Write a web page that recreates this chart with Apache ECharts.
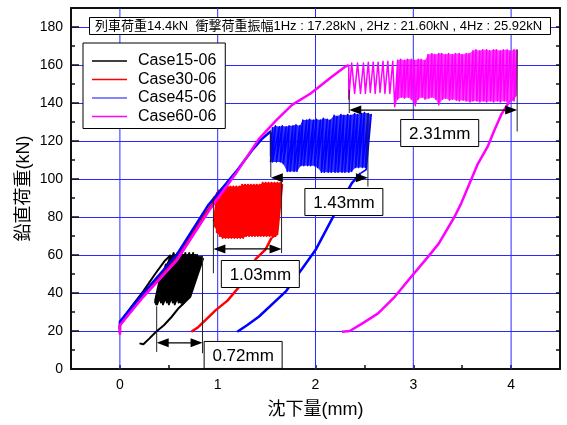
<!DOCTYPE html>
<html>
<head>
<meta charset="utf-8">
<script src="https://cdn.jsdelivr.net/npm/echarts@6/dist/echarts.min.js"></script>
<style>
  html, body { margin: 0; padding: 0; background: #fff; }
  #chart { width: 567px; height: 425px; }
</style>
</head>
<body>
<div id="chart"></div>
<script>
  var FONT = "'Liberation Sans', 'Noto Sans CJK JP', sans-serif"
  var titleText = '列車荷重14.4kN  衝撃荷重振幅1Hz : 17.28kN , 2Hz : 21.60kN , 4Hz : 25.92kN'
  var caseNames = ['Case15-06', 'Case30-06', 'Case45-06', 'Case60-06']

  // grid lines (x only, y comes from the axis)
  var gridX = [0, 1, 2, 3, 4]

  // Case15-06 : loading / cycle tops / cycle bottoms / unloading  [沈下量 mm, 荷重 kN]
  var blackLoad = [[0, 19], [0, 23], [0.05, 28], [0.12, 33], [0.24, 41], [0.36, 50], [0.46, 57], [0.52, 60]]
  var blackTop = [[0.42, 50], [0.47, 55], [0.52, 59], [0.55, 61], [0.57, 60], [0.59, 61], [0.61, 60], [0.63, 61],
    [0.65, 60], [0.67, 61], [0.69, 60], [0.71, 61], [0.73, 60], [0.75, 61], [0.77, 60], [0.79, 60], [0.81, 59],
    [0.83, 59], [0.85, 58]]
  var blackBot = [[0.36, 35], [0.36, 36], [0.37, 34], [0.37, 35], [0.38, 34], [0.40, 36], [0.42, 35], [0.44, 34],
    [0.46, 36], [0.48, 35], [0.50, 34], [0.52, 36], [0.54, 35], [0.56, 34], [0.58, 36], [0.60, 35], [0.62, 35],
    [0.64, 34], [0.66, 35], [0.72, 38]]
  var blackUnload = [[0.66, 35], [0.60, 32], [0.53, 27.5], [0.45, 23], [0.37, 19.6], [0.30, 16], [0.24, 13], [0.20, 13.5]]

  // Case30-06
  var redLoad = [[0, 19], [0, 23], [0.24, 39], [0.58, 58], [0.85, 80], [0.96, 88], [1.0, 93]]
  var redTop = [[1.01, 94], [1.04, 95], [1.07, 95], [1.10, 96], [1.13, 96], [1.16, 96], [1.19, 96], [1.22, 96],
    [1.25, 97], [1.28, 97], [1.31, 97], [1.34, 97], [1.37, 97], [1.40, 97], [1.43, 97], [1.46, 98], [1.49, 98],
    [1.52, 98], [1.55, 98], [1.58, 98], [1.61, 98], [1.64, 98], [1.66, 97]]
  var redBot = [[0.96, 78], [0.97, 75], [0.99, 72], [1.02, 70], [1.05, 69], [1.08, 69], [1.11, 69], [1.14, 69],
    [1.17, 69], [1.20, 69], [1.23, 69], [1.26, 69], [1.29, 70], [1.32, 70], [1.35, 70], [1.38, 70], [1.41, 70],
    [1.44, 70], [1.47, 70], [1.50, 70], [1.53, 70], [1.56, 70], [1.59, 70], [1.61, 71]]
  var redUnload = [[1.55, 69], [1.49, 63], [1.39, 58], [1.3, 50.5], [1.22, 43.3], [1.1, 36], [0.98, 31], [0.88, 26], [0.8, 22], [0.73, 19.6]]

  // Case45-06
  var blueLoad = [[0, 21], [0, 25], [0.24, 40], [0.58, 60], [0.9, 86], [1.19, 104], [1.35, 115], [1.45, 121], [1.54, 125]]
  var blueTop = [[1.56, 127], [1.59, 128], [1.63, 127.5], [1.66, 128], [1.70, 127.5], [1.73, 128], [1.77, 128],
    [1.80, 128.5], [1.84, 128], [1.87, 131], [1.91, 131], [1.94, 131.5], [1.98, 131], [2.01, 131.5], [2.05, 131],
    [2.08, 132], [2.12, 131.5], [2.15, 131], [2.19, 133.5], [2.22, 133], [2.26, 134], [2.29, 133.5], [2.33, 134],
    [2.36, 133.5], [2.40, 134.5], [2.43, 134], [2.47, 134.5], [2.50, 135], [2.54, 134.5], [2.57, 134]]
  var blueBot = [[1.54, 112], [1.54, 109], [1.56, 109], [1.60, 109], [1.64, 109], [1.67, 108], [1.71, 104],
    [1.74, 104], [1.78, 104], [1.81, 104], [1.85, 107], [1.88, 107], [1.92, 107], [1.95, 107], [1.99, 107],
    [2.02, 106], [2.06, 103.5], [2.09, 103.5], [2.13, 103.5], [2.16, 103.5], [2.20, 103.5], [2.23, 103.5],
    [2.27, 103.5], [2.30, 103.5], [2.34, 103.5], [2.37, 104], [2.41, 106], [2.44, 106], [2.48, 106], [2.51, 106], [2.52, 105]]
  var blueUnload = [[2.46, 103], [2.37, 97.7], [2.2, 82], [2.0, 62.6], [1.7, 41], [1.42, 27.5], [1.3, 23], [1.2, 19.6]]

  // Case60-06
  var pinkLoad = [[0, 18], [0, 23], [0.24, 38], [0.58, 57], [0.92, 84], [1.2, 104], [1.42, 121], [1.6, 131],
    [1.76, 139], [1.95, 145], [2.17, 154], [2.3, 159], [2.34, 160]]
  var pinkTop = [[2.37, 161], [2.43, 161], [2.49, 161], [2.54, 161.5], [2.59, 161.5], [2.64, 161.5], [2.69, 162],
    [2.74, 162], [2.79, 162], [2.84, 162.5], [2.87, 163], [2.91, 162.5], [2.94, 163], [2.98, 163], [3.01, 162.5],
    [3.05, 163], [3.08, 163], [3.12, 162.5], [3.15, 165.5], [3.19, 166], [3.22, 165.5], [3.26, 166], [3.29, 166],
    [3.33, 165.5], [3.36, 166], [3.40, 165.5], [3.43, 166], [3.47, 166], [3.50, 165.5], [3.54, 166], [3.57, 166],
    [3.61, 167.5], [3.64, 168], [3.68, 167.5], [3.71, 168], [3.75, 168], [3.78, 167.5], [3.82, 168], [3.85, 168],
    [3.89, 167.5], [3.92, 168], [3.96, 168], [3.99, 167.5], [4.03, 168], [4.06, 168]]
  var pinkBot = [[2.34, 142], [2.40, 145], [2.46, 145], [2.51, 145], [2.56, 145.5], [2.61, 145], [2.66, 145.5],
    [2.71, 145], [2.76, 145], [2.81, 138], [2.84, 142], [2.88, 143], [2.91, 142.5], [2.95, 143], [2.98, 142],
    [3.02, 138.5], [3.05, 142], [3.09, 143], [3.12, 142], [3.16, 142.5], [3.19, 143], [3.23, 142], [3.26, 139],
    [3.30, 142], [3.33, 142.5], [3.37, 141.5], [3.40, 142], [3.44, 141.5], [3.47, 141], [3.51, 141.5], [3.54, 141],
    [3.58, 140.5], [3.61, 141], [3.65, 141], [3.68, 140.5], [3.72, 141], [3.75, 140.5], [3.79, 141], [3.82, 140.5],
    [3.86, 141], [3.89, 140.5], [3.93, 141], [3.96, 140.5], [4.00, 141], [4.03, 141], [4.05, 144]]
  var pinkUnload = [[3.98, 140.5], [3.9, 134], [3.83, 125.8], [3.76, 117], [3.66, 108], [3.49, 87.2], [3.42, 80],
    [3.26, 66], [3.15, 59], [2.98, 48.6], [2.81, 38], [2.64, 29.3], [2.48, 24], [2.35, 20], [2.27, 19.6]]

  // 寸法線 (残留沈下量)
  var dimText = ['0.72mm', '1.03mm', '1.43mm', '2.31mm']
  var dimLeftX = [0.376, 0.956, 1.543, 2.345]
  var dimLeftY = [[9, 33], [50.4, 90.7], [101, 126], [134.7, 147]]
  var dimRightX = [0.845, 1.653, 2.536, 4.062]
  var dimRightY = [[8.3, 59.6], [61, 98.6], [96, 134.7], [125, 168]]
  var dimY = [13.8, 63.2, 100.7, 136.3]
  var labelX = [1.26, 1.436, 2.29, 3.27]
  var labelY = [7.4, 50, 87.9, 124.2]

  // cyclic part: end of loading -> (bottom, top) x n -> bottom -> start of unloading
  function buildCycles(load, tops, bots, unload) {
    var d = [load[load.length - 1]]
    for (var i = 0; i < bots.length; i++) {
      d.push(bots[i])
      if (i < tops.length) d.push(tops[i])
    }
    d.push(unload[0])
    return d
  }

  var colors = ['#000000', '#ff0000', '#0000ff', '#ff00ff']
  var legendColors = ['#000000', '#ff0000', '#5b5bff', '#ff00ff']
  var curveWidth = [2, 2.5, 2.5, 2.5]
  var cycleWidth = [2, 2, 1.5, 1.5]
  var fillOpacity = [1, 1, 0.8, 0.75]
  var fillFrom = [0, 0, 0, 9] // Case60 の最初の数サイクルは塗らない
  var loads = [blackLoad, redLoad, blueLoad, pinkLoad]
  var unloads = [blackUnload, redUnload, blueUnload, pinkUnload]
  var tops = [blackTop, redTop, blueTop, pinkTop]
  var bots = [blackBot, redBot, blueBot, pinkBot]

  // envelope of the cycles: bottoms left->right, tops right->left
  function envelopeSeries(k) {
    var env = bots[k].slice(fillFrom[k]).concat(tops[k].slice(fillFrom[k]).reverse())
    return {
      name: caseNames[k], type: 'custom', z: 2 + k, silent: true,
      data: env,
      renderItem: function (params, api) {
        if (params.dataIndex !== 0) return null
        var pts = env.map(function (p) { return api.coord(p) })
        return {type: 'polygon', shape: {points: pts}, style: {fill: colors[k], opacity: fillOpacity[k]}}
      }
    }
  }

  var axisLineStyle = {color: '#111', width: 2}
  var series = []

  series.push({
    type: 'custom', z: 1, silent: true,
    data: gridX.map(function (v) { return [v] }),
    renderItem: function (params, api) {
      var p0 = api.coord([api.value(0), 0])
      var p1 = api.coord([api.value(0), 190])
      return {type: 'line', shape: {x1: p0[0], y1: p0[1], x2: p1[0], y2: p1[1]}, style: {stroke: '#2a2aff', lineWidth: 1}}
    }
  })

  for (var k = 0; k < 4; k++) {
    var base = {name: caseNames[k], type: 'line', symbol: 'none', z: 2 + k, itemStyle: {color: colors[k]}}
    series.push(envelopeSeries(k))
    series.push(Object.assign({}, base, {data: loads[k], lineStyle: {color: colors[k], width: curveWidth[k]}}))
    series.push(Object.assign({}, base, {
      data: buildCycles(loads[k], tops[k], bots[k], unloads[k]),
      lineStyle: {color: colors[k], width: cycleWidth[k], join: 'round'}
    }))
    series.push(Object.assign({}, base, {data: unloads[k], lineStyle: {color: colors[k], width: curveWidth[k]}}))
  }

  series.push({
    type: 'custom', z: 10, silent: true, clip: false,
    data: labelX.map(function (v, i) { return [v, labelY[i]] }),
    renderItem: function (params, api) {
      var i = params.dataIndex
      var a0 = api.coord([dimLeftX[i], dimLeftY[i][0]]), a1 = api.coord([dimLeftX[i], dimLeftY[i][1]])
      var b0 = api.coord([dimRightX[i], dimRightY[i][0]]), b1 = api.coord([dimRightX[i], dimRightY[i][1]])
      var l = api.coord([dimLeftX[i], dimY[i]]), r = api.coord([dimRightX[i], dimY[i]])
      var c = api.coord([api.value(0), api.value(1)])
      var ln = {stroke: '#222', lineWidth: 1}
      return {
        type: 'group',
        children: [
          {type: 'line', shape: {x1: a0[0], y1: a0[1], x2: a1[0], y2: a1[1]}, style: ln},
          {type: 'line', shape: {x1: b0[0], y1: b0[1], x2: b1[0], y2: b1[1]}, style: ln},
          {type: 'line', shape: {x1: l[0] + 6, y1: l[1], x2: r[0] - 6, y2: r[1]}, style: {stroke: '#000', lineWidth: 1.3}},
          {type: 'polygon', shape: {points: [[l[0], l[1]], [l[0] + 12, l[1] - 4.5], [l[0] + 12, l[1] + 4.5]]}, style: {fill: '#000'}},
          {type: 'polygon', shape: {points: [[r[0], r[1]], [r[0] - 12, r[1] - 4.5], [r[0] - 12, r[1] + 4.5]]}, style: {fill: '#000'}},
          {type: 'rect', shape: {x: c[0] - 39, y: c[1] - 13.5, width: 78, height: 27}, style: {fill: '#fff', stroke: '#000', lineWidth: 1}},
          {type: 'text', style: {text: dimText[i], x: c[0], y: c[1] + 1, align: 'center', verticalAlign: 'middle',
            textAlign: 'center', textVerticalAlign: 'middle', fontSize: 17, fontFamily: FONT, fill: '#000'}}
        ]
      }
    }
  })

  var option = {
    animation: false,
    backgroundColor: '#fff',
    title: {
      text: titleText, left: 89, top: 17, padding: [2, 9, 1, 6],
      borderColor: '#000', borderWidth: 1, backgroundColor: '#fff',
      textStyle: {fontSize: 13, fontWeight: 'normal', fontFamily: FONT, color: '#000', lineHeight: 15}
    },
    legend: {
      orient: 'vertical', left: 83, top: 43, padding: [10, 9, 4, 9], itemGap: 2.5,
      itemWidth: 35, itemHeight: 1.5, icon: 'rect',
      borderColor: '#000', borderWidth: 1, backgroundColor: '#fff', borderRadius: 0,
      textStyle: {fontSize: 16, fontFamily: FONT, color: '#000', lineHeight: 16, padding: [0, 0, 0, 6]},
      data: caseNames.map(function (n, i) { return {name: n, itemStyle: {color: legendColors[i]}} })
    },
    grid: {left: 71, right: 7, top: 8, bottom: 56},
    xAxis: [{
      type: 'value', min: -0.5, max: 4.5, interval: 0.5, position: 'bottom',
      name: '沈下量(mm)', nameLocation: 'middle', nameGap: 32, nameMoveOverlap: false,
      nameTextStyle: {fontSize: 18, fontFamily: FONT, color: '#000'},
      axisLine: {onZero: false, lineStyle: axisLineStyle},
      axisTick: {inside: true, length: 4, lineStyle: {color: '#111', width: 1.5}},
      axisLabel: {
        fontSize: 14, fontFamily: FONT, color: '#000', margin: 9,
        formatter: function (v) { return Math.abs(v - Math.round(v)) < 1e-6 ? String(Math.round(v)) : '' }
      },
      splitLine: {show: false}
    }, {
      type: 'value', min: -0.5, max: 4.5, interval: 0.5, position: 'top',
      axisLine: {onZero: false, lineStyle: axisLineStyle},
      axisTick: {show: false}, axisLabel: {show: false}, splitLine: {show: false}
    }],
    yAxis: [{
      type: 'value', min: 0, max: 190, interval: 20, position: 'left',
      name: '鉛直荷重(kN)', nameLocation: 'middle', nameGap: 38, nameMoveOverlap: false,
      nameTextStyle: {fontSize: 18, fontFamily: FONT, color: '#000'},
      axisLine: {onZero: false, lineStyle: axisLineStyle},
      axisTick: {inside: true, length: 8, lineStyle: {color: '#111', width: 1.5}},
      axisLabel: {
        fontSize: 14, fontFamily: FONT, color: '#000', margin: 8,
        formatter: function (v) { return v <= 180 ? String(v) : '' }
      },
      splitLine: {show: true, lineStyle: {color: '#2a2aff', width: 1}}
    }, {
      type: 'value', min: 0, max: 190, interval: 10, position: 'left',
      axisLine: {show: false, onZero: false},
      axisTick: {inside: true, length: 4, lineStyle: {color: '#111', width: 1.5}},
      axisLabel: {show: false}, splitLine: {show: false}
    }, {
      type: 'value', min: 0, max: 190, interval: 10, position: 'right',
      axisLine: {onZero: false, lineStyle: axisLineStyle},
      axisTick: {inside: true, length: 4, lineStyle: {color: '#111', width: 1.5}},
      axisLabel: {show: false}, splitLine: {show: false}
    }],
    series: series
  }

  echarts.init(document.getElementById('chart')).setOption(option)
</script>
</body>
</html>
